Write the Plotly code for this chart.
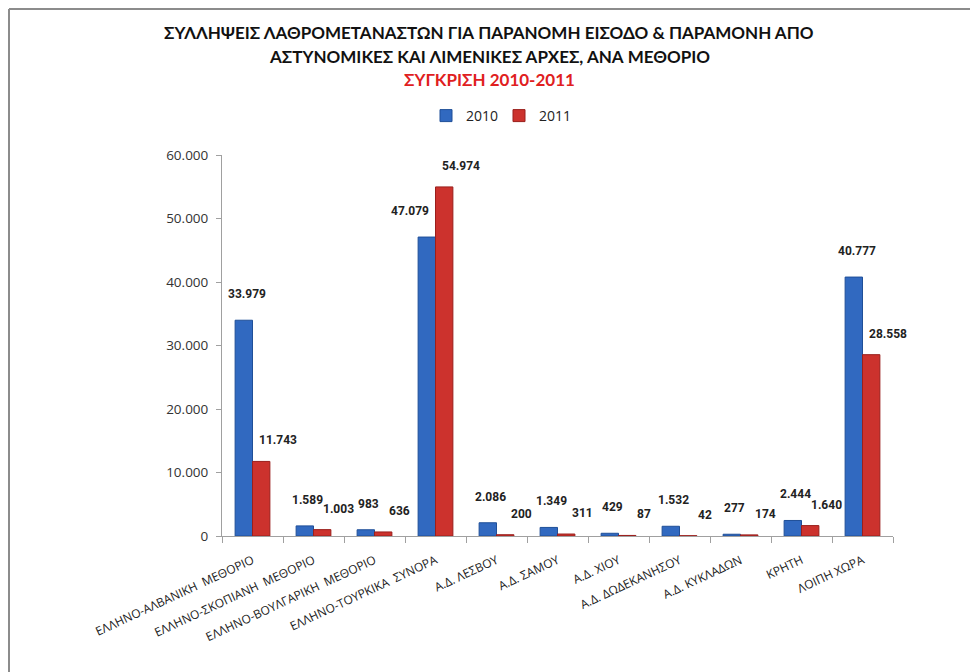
import plotly.graph_objects as go

categories = [
    "ΕΛΛΗΝΟ-ΑΛΒΑΝΙΚΗ  ΜΕΘΟΡΙΟ",
    "ΕΛΛΗΝΟ-ΣΚΟΠΙΑΝΗ  ΜΕΘΟΡΙΟ",
    "ΕΛΛΗΝΟ-ΒΟΥΛΓΑΡΙΚΗ  ΜΕΘΟΡΙΟ",
    "ΕΛΛΗΝΟ-ΤΟΥΡΚΙΚΑ  ΣΥΝΟΡΑ",
    "Α.Δ. ΛΕΣΒΟΥ",
    "Α.Δ. ΣΑΜΟΥ",
    "Α.Δ. ΧΙΟΥ",
    "Α.Δ. ΔΩΔΕΚΑΝΗΣΟΥ",
    "Α.Δ. ΚΥΚΛΑΔΩΝ",
    "ΚΡΗΤΗ",
    "ΛΟΙΠΗ ΧΩΡΑ",
]
values_2010 = [33979, 1589, 983, 47079, 2086, 1349, 429, 1532, 277, 2444, 40777]
values_2011 = [11743, 1003, 636, 54974, 200, 311, 87, 42, 174, 1640, 28558]
series_names = ["2010", "2011"]
y_ticks = [0, 10000, 20000, 30000, 40000, 50000, 60000]


def fmt(v):
    return f"{v:,}".replace(",", ".")


# the page body adds an 8px offset; work in screen coordinates minus 8
OFF = 8
W, H = 978 - OFF, 672 - OFF
L, R, T, B = 222 - OFF, 978 - 893, 155 - OFF, 672 - 536
pw, ph = W - L - R, H - T - B


def px_x(x):
    return (x - OFF - L) / pw


def px_y(y):
    return 1 - (y - OFF - T) / ph


label_font = dict(family="Roboto", size=12, color="#222222")

fig = go.Figure()
fig.add_trace(go.Bar(
    name=series_names[0], x=categories, y=values_2010,
    marker=dict(color="#3169c0", line=dict(color="#1f4f98", width=1)),
    hoverinfo="x+y",
))
fig.add_trace(go.Bar(
    name=series_names[1], x=categories, y=values_2011,
    marker=dict(color="#cc322d", line=dict(color="#9a1f1c", width=1)),
    hoverinfo="x+y",
))

# data labels (offset like the 3-D chart: 2010 to the left, 2011 to the right);
# a 2010 label is pushed further left when the 2011 bar next to it is taller
for cat, v, v_other in zip(categories, values_2010, values_2011):
    shift = -26 if v_other > v else -6
    fig.add_annotation(x=cat, y=v, xref="x", yref="y", text="<b>" + fmt(v) + "</b>",
                       showarrow=False, xshift=shift, yshift=26, font=label_font,
                       xanchor="center", yanchor="middle")
for cat, v in zip(categories, values_2011):
    fig.add_annotation(x=cat, y=v, xref="x", yref="y", text="<b>" + fmt(v) + "</b>",
                       showarrow=False, xshift=25, yshift=21, font=label_font,
                       xanchor="center", yanchor="middle")

title_font = dict(family="Lato", size=17, color="#111111")
fig.add_annotation(text="<b>ΣΥΛΛΗΨΕΙΣ ΛΑΘΡΟΜΕΤΑΝΑΣΤΩΝ ΓΙΑ ΠΑΡΑΝΟΜΗ ΕΙΣΟΔΟ & ΠΑΡΑΜΟΝΗ ΑΠΟ</b>",
                   xref="paper", yref="paper", x=px_x(489), y=px_y(33),
                   showarrow=False, font=title_font, xanchor="center", yanchor="middle")
fig.add_annotation(text="<b>ΑΣΤΥΝΟΜΙΚΕΣ ΚΑΙ ΛΙΜΕΝΙΚΕΣ ΑΡΧΕΣ, ΑΝΑ ΜΕΘΟΡΙΟ</b>",
                   xref="paper", yref="paper", x=px_x(489), y=px_y(57),
                   showarrow=False, font=title_font, xanchor="center", yanchor="middle")
fig.add_annotation(text="<b>ΣΥΓΚΡΙΣΗ 2010-2011</b>",
                   xref="paper", yref="paper", x=px_x(489), y=px_y(80),
                   showarrow=False, font=dict(family="Lato", size=17, color="#e0201e"),
                   xanchor="center", yanchor="middle")

# chart frame (left and top border)
fig.add_shape(type="line", xref="paper", yref="paper",
              x0=px_x(9), x1=px_x(990), y0=px_y(9), y1=px_y(9),
              line=dict(color="#8c8c8c", width=2))
fig.add_shape(type="line", xref="paper", yref="paper",
              x0=px_x(9), x1=px_x(9), y0=px_y(9), y1=px_y(690),
              line=dict(color="#8c8c8c", width=2))

fig.update_layout(
    width=W, height=H,
    margin=dict(l=L, r=R, t=T, b=B, autoexpand=False),
    paper_bgcolor="white", plot_bgcolor="white",
    barmode="group", bargap=0.43, bargroupgap=0.0,
    separators=",.",
    font=dict(family="Open Sans", size=11, color="#222222"),
    showlegend=True,
    legend=dict(orientation="h", xref="container", yref="container",
                x=(499 - OFF) / W, y=1 - (116 - OFF) / H, xanchor="center", yanchor="middle",
                font=dict(family="Open Sans", size=14, color="#222222"),
                itemwidth=30, entrywidth=28, entrywidthmode="pixels", tracegroupgap=0),
    xaxis=dict(range=[-0.5, len(categories) - 0.5], autorange=False,
               showline=True, linecolor="#a0a0a0", linewidth=1,
               ticks="outside", tickson="boundaries", ticklen=6, tickcolor="#a0a0a0",
               ticklabelstandoff=12,
               tickangle=-25, tickfont=dict(family="Open Sans", size=12, color="#222222"),
               showgrid=False),
    yaxis=dict(range=[0, 60000], autorange=False, tickvals=y_ticks,
               ticktext=[fmt(v) for v in y_ticks],
               showline=True, linecolor="#a0a0a0", linewidth=1,
               ticks="outside", ticklen=5, tickcolor="#a0a0a0", ticklabelstandoff=5,
               tickfont=dict(family="Open Sans", size=13.5, color="#333333"),
               showgrid=False, zeroline=False),
)

fig.write_html("out.html")
